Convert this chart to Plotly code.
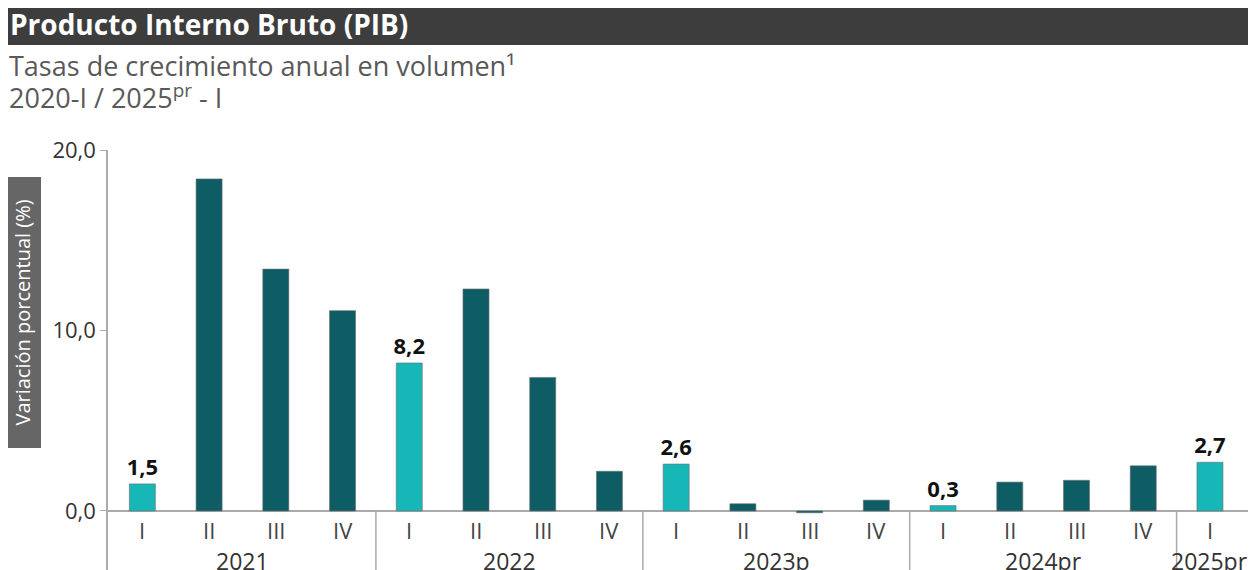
import plotly.graph_objects as go

quarters = ["I", "II", "III", "IV", "I", "II", "III", "IV", "I", "II", "III", "IV",
            "I", "II", "III", "IV", "I"]
years = ["2021", "2022", "2023p", "2024pr", "2025pr"]
year_sizes = [4, 4, 4, 4, 1]
values = [1.5, 18.4, 13.4, 11.1, 8.2, 12.3, 7.4, 2.2, 2.6, 0.4, -0.1, 0.6,
          0.3, 1.6, 1.7, 2.5, 2.7]
is_first = [q == "I" for q in quarters]

idx = list(range(len(values)))
x_q1 = [i for i in idx if is_first[i]]
y_q1 = [values[i] for i in idx if is_first[i]]
x_oth = [i for i in idx if not is_first[i]]
y_oth = [values[i] for i in idx if not is_first[i]]

CYAN = "#17b7b8"
DARK = "#0e5c64"
YMIN, YMAX = -3.27, 20.0
FONT = "Open Sans"

# the page has an 8px body margin; plot area is 1148 x 420 px
def px(xr):  # reference pixel x -> paper x
    return (xr - 108) / 1148

def py(yr):  # reference pixel y -> paper y
    return (570 - yr) / 420

fig = go.Figure()
fig.add_trace(go.Bar(x=x_oth, y=y_oth, width=0.39,
                     marker=dict(color=DARK, line=dict(color="rgba(110,110,110,0.6)", width=1)),
                     hoverinfo="y"))
fig.add_trace(go.Bar(x=x_q1, y=y_q1, width=0.39,
                     marker=dict(color=CYAN, line=dict(color="rgba(110,110,110,0.6)", width=1)),
                     texttemplate="<b>%{y:.1f}</b>", textposition="outside",
                     constraintext="none",
                     textfont=dict(family=FONT, size=22, color="#111"),
                     cliponaxis=False, hoverinfo="y"))

shapes = []
annotations = []
for i, q in enumerate(quarters):
    annotations.append(dict(x=i, y=-1.05, xref="x", yref="y", text=q, showarrow=False,
                            font=dict(family=FONT, size=22, color="#444")))
start = 0
for yr, n in zip(years, year_sizes):
    center = start + (n - 1) / 2
    annotations.append(dict(x=center, y=-2.75, xref="x", yref="y", text=yr, showarrow=False,
                            font=dict(family=FONT, size=23, color="#333")))
    if start > 0:
        shapes.append(dict(type="line", xref="x", yref="y", x0=start - 0.5, x1=start - 0.5,
                           y0=YMIN, y1=0, line=dict(color="#aaaaaa", width=1.5)))
    start += n

# title bar
shapes.append(dict(type="rect", xref="paper", yref="paper", x0=-0.1, x1=1.0,
                   y0=py(45), y1=py(0), fillcolor="#3d3d3d",
                   line=dict(width=0), layer="below"))
# y label box
shapes.append(dict(type="rect", xref="paper", yref="paper", x0=px(2), x1=px(41),
                   y0=py(448), y1=py(177), fillcolor="#666666", line=dict(width=0)))
annotations.append(dict(x=px(22), y=py(312.5), xref="paper", yref="paper",
                        xanchor="center", yanchor="middle",
                        text="Variación porcentual (%)", textangle=-90, showarrow=False,
                        font=dict(family=FONT, size=20, color="white")))
annotations.append(dict(x=px(8), y=py(24), xref="paper", yref="paper",
                        xanchor="left", yanchor="middle",
                        text="<b>Producto Interno Bruto (PIB)</b>", showarrow=False,
                        font=dict(family=FONT, size=28, color="white")))
annotations.append(dict(x=px(7), y=py(65), xref="paper", yref="paper", xanchor="left",
                        yanchor="middle", text="Tasas de crecimiento anual en volumen¹",
                        showarrow=False, font=dict(family=FONT, size=27, color="#595959")))
annotations.append(dict(x=px(7), y=py(96), xref="paper", yref="paper", xanchor="left",
                        yanchor="middle", text="2020-I / 2025<sup>pr</sup> - I",
                        showarrow=False, font=dict(family=FONT, size=27, color="#595959")))

fig.update_layout(
    width=1248, height=562,
    margin=dict(l=100, r=0, t=142, b=0),
    separators=",.",
    barmode="overlay",
    showlegend=False,
    plot_bgcolor="white", paper_bgcolor="white",
    xaxis=dict(range=[-0.515, 16.69], showticklabels=False, showgrid=False, zeroline=False,
               showline=False, fixedrange=True),
    yaxis=dict(range=[YMIN, YMAX], tickvals=[0, 10, 20], tickformat=".1f",
               showgrid=False, zeroline=True, zerolinecolor="#aaaaaa", zerolinewidth=1.5,
               showline=True, linecolor="#aaaaaa", linewidth=1.5,
               ticks="outside", ticklen=6, tickcolor="#aaaaaa",
               tickfont=dict(family=FONT, size=22, color="#333")),
    shapes=shapes,
    annotations=annotations,
)

fig.write_html("out.html")
